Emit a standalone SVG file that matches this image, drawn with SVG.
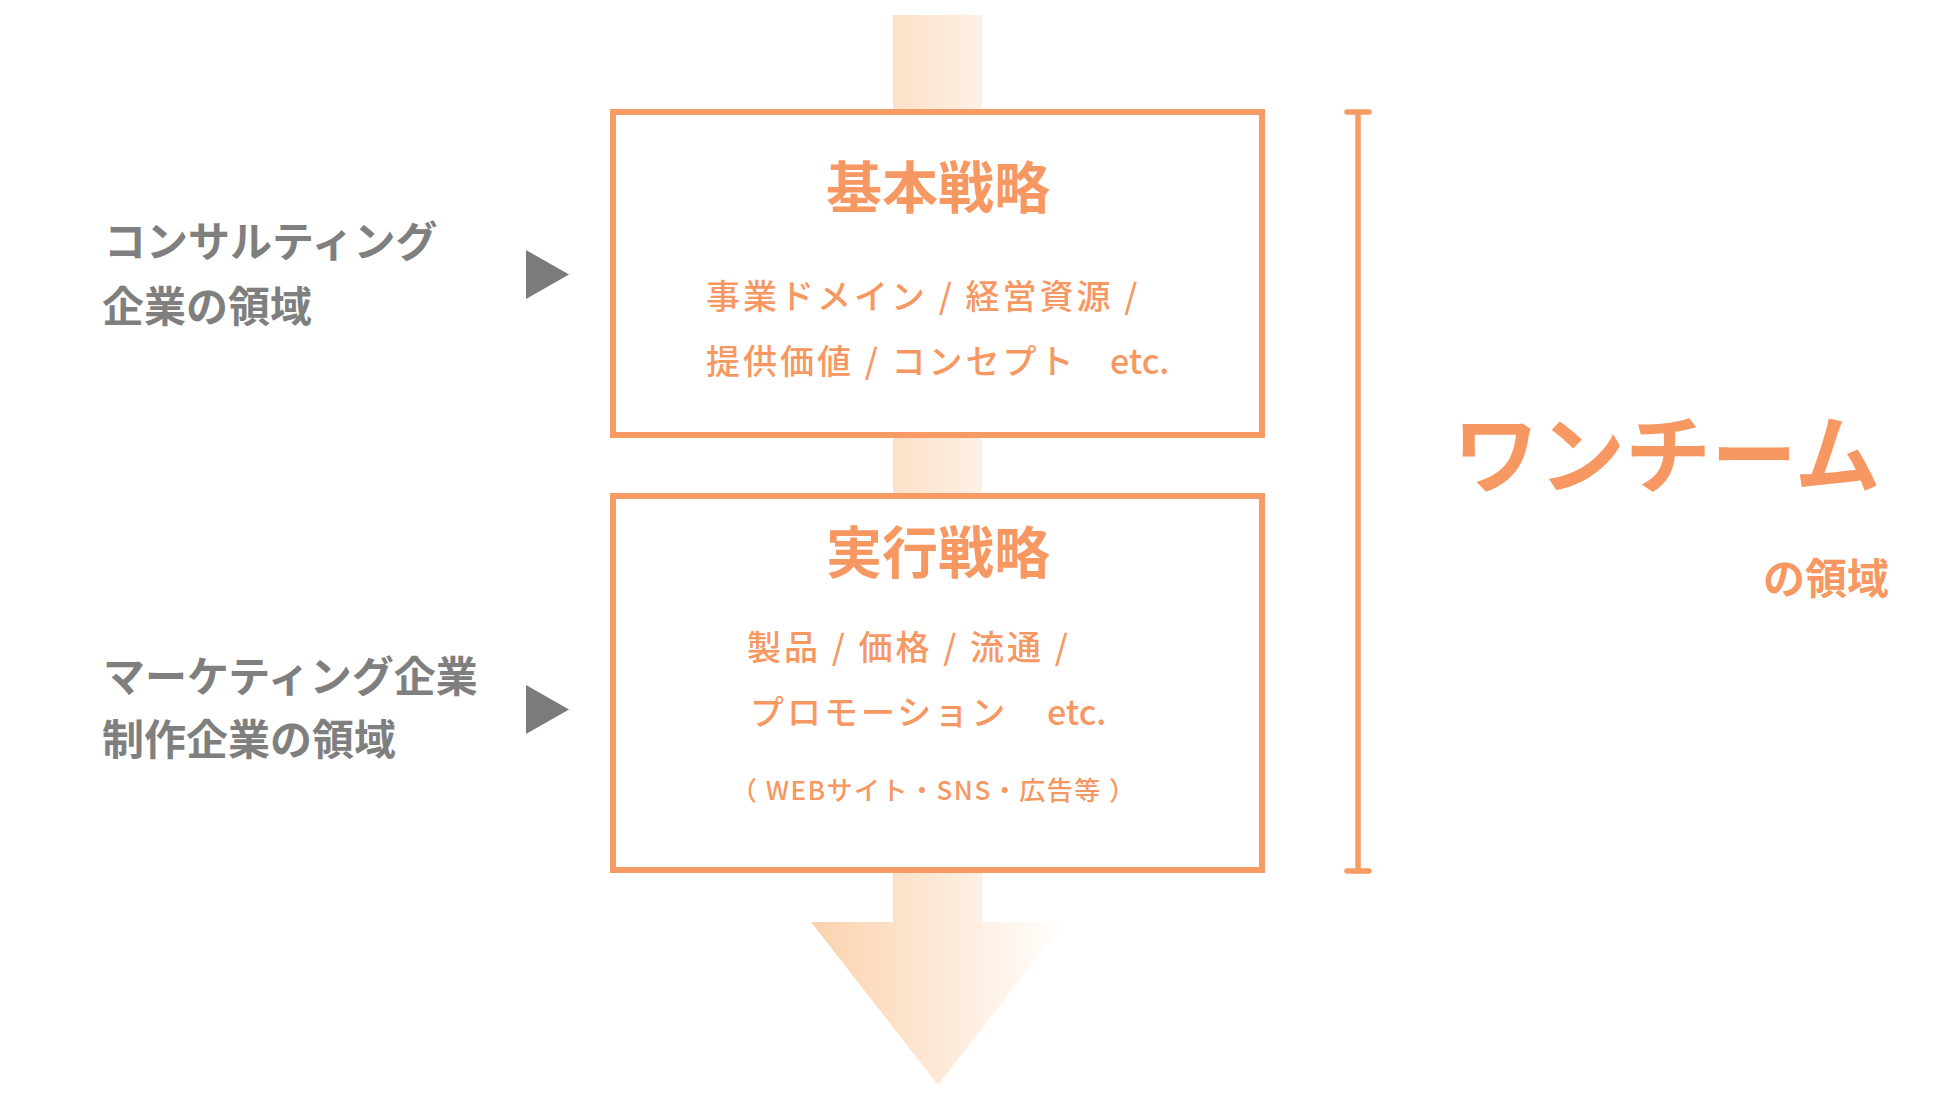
<svg xmlns="http://www.w3.org/2000/svg" width="1950" height="1097" viewBox="0 0 1950 1097">
  <defs>
    <linearGradient id="flowGrad" gradientUnits="userSpaceOnUse" x1="811" y1="0" x2="1065" y2="0">
      <stop offset="0" stop-color="#fbd2ad"/>
      <stop offset="1" stop-color="#ffffff"/>
    </linearGradient>
    <style>
      .box { fill: #ffffff; stroke: #f89a63; stroke-width: 6; }
      .title { font-family: "Noto Sans CJK JP", sans-serif; font-weight: 700; font-size: 56px; fill: #f79862; text-anchor: middle; }
      .body { font-family: "Noto Sans CJK JP", sans-serif; font-weight: 500; font-size: 34px; fill: #f79862; letter-spacing: 3px; }
      .etc { letter-spacing: 0px; }
      .small { font-family: "Noto Sans CJK JP", sans-serif; font-weight: 500; font-size: 26px; fill: #f79862; letter-spacing: 1.5px; }
      .side { font-family: "Noto Sans CJK JP", sans-serif; font-weight: 700; font-size: 42px; fill: #7f7f7f; }
      .team { font-family: "Noto Sans CJK JP", sans-serif; font-weight: 700; fill: #f79862; }
      .pointer { fill: #7b7b7b; }
      .bracket { stroke: #f89a63; stroke-width: 5.5; stroke-linecap: round; fill: none; }
    </style>
  </defs>
  <rect width="1950" height="1097" fill="#ffffff"/>

  <g id="connectors">
    <polygon id="flow-arrow" points="893,15 982,15 982,922 1065,922 938,1085 811,922 893,922" fill="url(#flowGrad)"/>
    <polygon class="pointer" points="526,250 569,274.5 526,299"/>
    <polygon class="pointer" points="526,685 569,709.5 526,734"/>
    <g id="bracket">
      <line class="bracket" x1="1358" y1="112" x2="1358" y2="871"/>
      <line class="bracket" x1="1347" y1="112" x2="1369" y2="112"/>
      <line class="bracket" x1="1347" y1="871" x2="1369" y2="871"/>
    </g>
  </g>

  <g id="basic-strategy">
    <rect class="box" x="613" y="112" width="649" height="323"/>
    <text class="title" x="938" y="208">基本戦略</text>
    <text class="body" x="706" y="309">事業ドメイン / 経営資源 /</text>
    <text class="body" y="374"><tspan x="706">提供価値 / コンセプト</tspan><tspan class="etc" x="1110">etc.</tspan></text>
  </g>

  <g id="execution-strategy">
    <rect class="box" x="613" y="496" width="649" height="374"/>
    <text class="title" x="938" y="573">実行戦略</text>
    <text class="body" x="747" y="660">製品 / 価格 / 流通 /</text>
    <text class="body" y="725"><tspan x="750">プロモーション</tspan><tspan class="etc" x="1047">etc.</tspan></text>
    <text class="small" x="731" y="800">（ WEBサイト・SNS・広告等 ）</text>
  </g>

  <g id="consulting-label">
    <text class="side" x="104" y="257">コンサルティング</text>
    <text class="side" x="102" y="322">企業の領域</text>
  </g>

  <g id="marketing-label">
    <text class="side" x="103" y="692">マーケティング企業</text>
    <text class="side" x="102" y="755">制作企業の領域</text>
  </g>

  <g id="one-team">
    <text class="team" x="1453" y="487" font-size="86">ワンチーム</text>
    <text class="team" x="1763" y="594" font-size="42">の領域</text>
  </g>
</svg>
